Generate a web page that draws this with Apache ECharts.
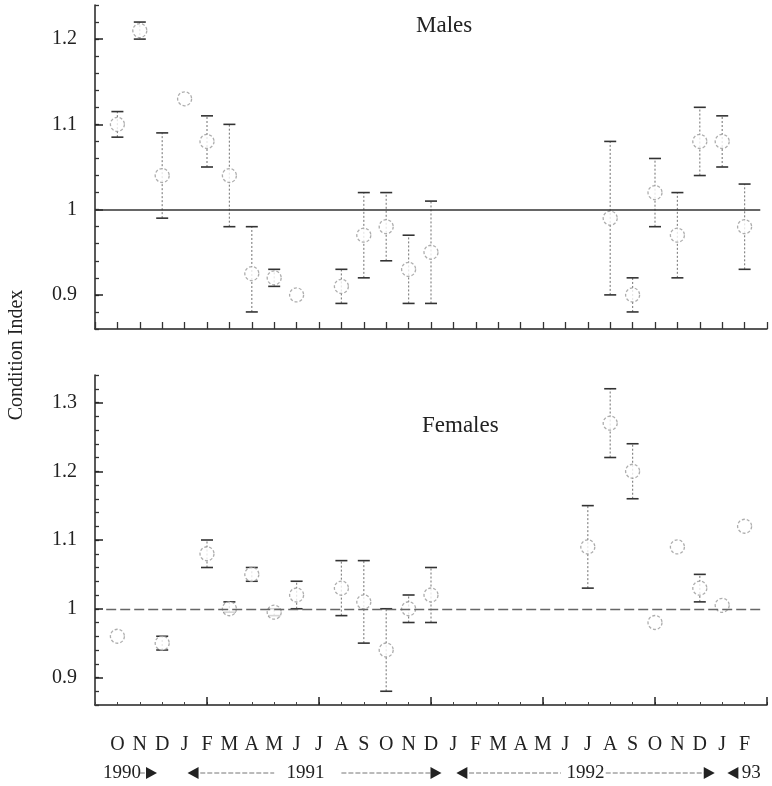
<!DOCTYPE html>
<html>
<head>
<meta charset="utf-8">
<script src="https://cdn.jsdelivr.net/npm/echarts@6/dist/echarts.min.js"></script>
<style>
  html, body { margin: 0; padding: 0; background: #fff; }
  #main { width: 772px; height: 786px; }
</style>
</head>
<body>
<div id="main"></div>
<script>
// x position 0 = Oct 1990 ... 28 = Feb 1993
var months = ["O","N","D","J","F","M","A","M","J","J","A","S","O","N","D",
              "J","F","M","A","M","J","J","A","S","O","N","D","J","F"];

// males
var maleIdx  = [0, 1, 2, 3, 4, 5, 6, 7, 8, 10, 11, 12, 13, 14, 22, 23, 24, 25, 26, 27, 28];
var maleMean = [1.10, 1.21, 1.04, 1.13, 1.08, 1.04, 0.925, 0.92, 0.90, 0.91, 0.97, 0.98, 0.93, 0.95, 0.99, 0.90, 1.02, 0.97, 1.08, 1.08, 0.98];
var maleLow  = [1.085, 1.20, 0.99, null, 1.05, 0.98, 0.88, 0.91, null, 0.89, 0.92, 0.94, 0.89, 0.89, 0.90, 0.88, 0.98, 0.92, 1.04, 1.05, 0.93];
var maleHigh = [1.115, 1.22, 1.09, null, 1.11, 1.10, 0.98, 0.93, null, 0.93, 1.02, 1.02, 0.97, 1.01, 1.08, 0.92, 1.06, 1.02, 1.12, 1.11, 1.03];

// females
var femIdx  = [0, 2, 4, 5, 6, 7, 8, 10, 11, 12, 13, 14, 21, 22, 23, 24, 25, 26, 27, 28];
var femMean = [0.96, 0.95, 1.08, 1.00, 1.05, 0.995, 1.02, 1.03, 1.01, 0.94, 1.00, 1.02, 1.09, 1.27, 1.20, 0.98, 1.09, 1.03, 1.005, 1.12];
var femLow  = [null, 0.94, 1.06, 0.995, 1.04, 0.99, 1.00, 0.99, 0.95, 0.88, 0.98, 0.98, 1.03, 1.22, 1.16, null, null, 1.01, null, null];
var femHigh = [null, 0.96, 1.10, 1.01, 1.06, 1.00, 1.04, 1.07, 1.07, 1.00, 1.02, 1.06, 1.15, 1.32, 1.24, null, null, 1.05, null, null];

var maleTicks = [0.9, 1.0, 1.1, 1.2];
var femTicks  = [0.9, 1.0, 1.1, 1.2, 1.3];

// year row under the months (positions in month units)
var yearTexts  = [["1990", 0.2], ["1991", 8.4], ["1992", 20.9], ["93", 28.3]];
var yearArrows = [[1.5, 1], [3.4, -1], [14.2, 1], [15.4, -1], [26.4, 1], [27.5, -1]];
var yearLines  = [[1.0, 1.3], [3.7, 7.0], [10.0, 14.0], [15.7, 19.8], [21.8, 26.2]];

var serif = "Liberation Serif";

function points(idx, mean) {
  return idx.map(function (x, i) { return [x, mean[i]]; });
}
function bars(idx, lo, hi) {
  var out = [];
  idx.forEach(function (x, i) {
    if (lo[i] != null && hi[i] != null) out.push([x, lo[i], hi[i]]);
  });
  return out;
}

function errorSeries(gi, data) {
  return {
    type: "custom",
    xAxisIndex: gi === 0 ? 0 : 1,
    yAxisIndex: gi === 0 ? 0 : 2,
    data: data,
    silent: true,
    z: 3,
    renderItem: function (params, api) {
      var x = api.value(0);
      var lo = api.coord([x, api.value(1)]);
      var hi = api.coord([x, api.value(2)]);
      var w = 6;
      return {
        type: "group",
        children: [
          { type: "line", shape: { x1: lo[0], y1: lo[1], x2: hi[0], y2: hi[1] },
            style: { stroke: "#888", lineWidth: 1.2, lineDash: [2, 2] } },
          { type: "line", shape: { x1: lo[0] - w, y1: lo[1], x2: lo[0] + w, y2: lo[1] },
            style: { stroke: "#333", lineWidth: 1.6 } },
          { type: "line", shape: { x1: hi[0] - w, y1: hi[1], x2: hi[0] + w, y2: hi[1] },
            style: { stroke: "#333", lineWidth: 1.6 } }
        ]
      };
    }
  };
}

function yAxes(gi, min, max, ticks) {
  var main = {
    type: "value", gridIndex: gi, min: min, max: max, interval: 0.02,
    position: "left",
    axisLine: { show: true, onZero: false, lineStyle: { color: "#222", width: 1.5 } },
    axisTick: { inside: true, length: 4, lineStyle: { color: "#333", width: 1.3 } },
    axisLabel: { customValues: ticks, fontFamily: serif, fontSize: 20, color: "#222", margin: 18,
                 formatter: function (v) { return String(Math.round(v * 10) / 10); } },
    splitLine: { show: false }
  };
  var major = {
    type: "value", gridIndex: gi, min: min, max: max, position: "left", offset: 0,
    axisLine: { show: false, onZero: false },
    axisTick: { inside: true, length: 8, customValues: ticks, lineStyle: { color: "#222", width: 1.5 } },
    axisLabel: { show: false },
    splitLine: { show: false }
  };
  return [main, major];
}

var chart = echarts.init(document.getElementById("main"));

var option = {
  animation: false,
  backgroundColor: "#fff",
  title: [
    { text: "Males", left: 411, top: 9,
      textStyle: { fontFamily: serif, fontSize: 23, fontWeight: "normal", color: "#222" } },
    { text: "Females", left: 417, top: 409,
      textStyle: { fontFamily: serif, fontSize: 23, fontWeight: "normal", color: "#222" } }
  ],
  grid: [
    { left: 95, right: 5, top: 5, height: 324 },
    { left: 95, right: 5, top: 375, height: 330 }
  ],
  xAxis: [
    { type: "value", gridIndex: 0, min: -1, max: 29, interval: 1,
      axisLine: { onZero: false, lineStyle: { color: "#222", width: 1.5 } },
      axisTick: { inside: true, length: 7, lineStyle: { color: "#333", width: 1.3 } },
      axisLabel: { show: false }, splitLine: { show: false } },
    { type: "value", gridIndex: 1, min: -1, max: 29, interval: 1, position: "bottom",
      axisLine: { onZero: false, lineStyle: { color: "#222", width: 1.5 } },
      axisTick: { inside: true, length: 3, lineStyle: { color: "#444", width: 1 } },
      axisLabel: { fontFamily: serif, fontSize: 20, color: "#222", margin: 30,
                   formatter: function (v) { return months[v] || ""; } },
      splitLine: { show: false } },
    { type: "value", gridIndex: 1, min: -1, max: 29, position: "bottom", offset: 0,
      axisLine: { show: false, onZero: false },
      axisTick: { inside: true, length: 8, customValues: [4, 9, 14, 19, 24, 29],
                  lineStyle: { color: "#222", width: 1.5 } },
      axisLabel: { show: false }, splitLine: { show: false } }
  ],
  yAxis: yAxes(0, 0.86, 1.24, maleTicks).concat(yAxes(1, 0.86, 1.34, femTicks)),
  series: [
    errorSeries(0, bars(maleIdx, maleLow, maleHigh)),
    {
      type: "scatter", xAxisIndex: 0, yAxisIndex: 0, z: 4,
      data: points(maleIdx, maleMean),
      symbol: "circle", symbolSize: 14,
      itemStyle: { color: "#fff", borderColor: "#999", borderWidth: 1.3, borderType: [3, 2] },
      markLine: {
        silent: true, symbol: "none", label: { show: false },
        lineStyle: { color: "#333", width: 1.5, type: "solid" },
        data: [[{ coord: [-1, 1] }, { coord: [28.7, 1] }]]
      }
    },
    errorSeries(1, bars(femIdx, femLow, femHigh)),
    {
      type: "scatter", xAxisIndex: 1, yAxisIndex: 2, z: 4,
      data: points(femIdx, femMean),
      symbol: "circle", symbolSize: 14,
      itemStyle: { color: "#fff", borderColor: "#999", borderWidth: 1.3, borderType: [3, 2] },
      markLine: {
        silent: true, symbol: "none", label: { show: false },
        lineStyle: { color: "#666", width: 1.3, type: [10, 4] },
        data: [[{ coord: [-0.5, 1] }, { coord: [28.7, 1] }]]
      }
    }
  ]
};

chart.setOption(option);

// annotations: y title + year row
var els = [{
  type: "text", x: 17, y: 355, rotation: Math.PI / 2,
  style: { text: "Condition Index", font: "20px " + serif, fill: "#222",
           align: "center", verticalAlign: "middle" }
}];
var yRow = 773;
function px(m) { return chart.convertToPixel({ xAxisIndex: 1 }, m); }
yearTexts.forEach(function (t) {
  els.push({ type: "text", x: px(t[1]), y: yRow,
    style: { text: t[0], font: "19px " + serif, fill: "#222", align: "center", verticalAlign: "middle" } });
});
yearLines.forEach(function (l) {
  els.push({ type: "line", shape: { x1: px(l[0]), y1: yRow, x2: px(l[1]), y2: yRow },
    style: { stroke: "#777", lineWidth: 1, lineDash: [5, 2] } });
});
yearArrows.forEach(function (a) {
  var x = px(a[0]), d = a[1];
  els.push({ type: "polygon",
    shape: { points: [[x - 5 * d, yRow - 6], [x + 6 * d, yRow], [x - 5 * d, yRow + 6]] },
    style: { fill: "#222" } });
});
chart.setOption({ graphic: { elements: els } });
</script>
</body>
</html>
